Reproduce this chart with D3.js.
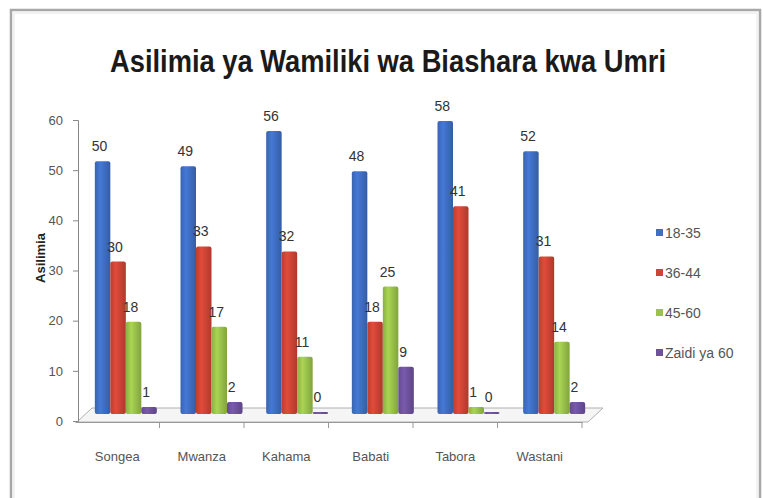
<!DOCTYPE html>
<html>
<head>
<meta charset="utf-8">
<script src="https://cdn.jsdelivr.net/npm/d3@7"></script>
<style>
  body { margin: 0; background: #fff; }
  svg { display: block; }
  text { font-family: "Liberation Sans Narrow", "Liberation Sans", "DejaVu Sans Condensed", sans-serif; }
</style>
</head>
<body>
<div id="chart"></div>
<script>
var categories = ["Songea", "Mwanza", "Kahama", "Babati", "Tabora", "Wastani"];
var series = ["18-35", "36-44", "45-60", "Zaidi ya 60"];
var v18_35 = [50, 49, 56, 48, 58, 52];
var v36_44 = [30, 33, 32, 18, 41, 31];
var v45_60 = [18, 17, 11, 25, 1, 14];
var vZaidi60 = [1, 2, 0, 9, 0, 2];
var yTicks = [0, 10, 20, 30, 40, 50, 60];
var colors = ["#3f6fc4", "#cf4535", "#9bc34b", "#6f529e"];
var values = [v18_35, v36_44, v45_60, vZaidi60];

var svg = d3.select("#chart").append("svg")
    .attr("width", 763).attr("height", 498);

// fremu
svg.append("rect").attr("x", 11).attr("y", 10).attr("width", 749).attr("height", 500)
    .attr("fill", "#fff").attr("stroke", "#a8a8a8").attr("stroke-width", 2.5);
svg.append("rect").attr("x", 14).attr("y", 13).attr("width", 743).attr("height", 500)
    .attr("fill", "none").attr("stroke", "#e6e6e6").attr("stroke-width", 1);

// kichwa
svg.append("text").attr("x", 388).attr("y", 72)
    .attr("text-anchor", "middle")
    .attr("font-size", 32).attr("font-weight", "bold").attr("fill", "#1a1a1a")
    .attr("textLength", 556).attr("lengthAdjust", "spacingAndGlyphs")
    .text("Asilimia ya Wamiliki wa Biashara kwa Umri");

// mizani
var yAxisScale = d3.scaleLinear().domain([0, 60]).range([421, 120]);
var yBar = d3.scaleLinear().domain([0, 60]).range([414, 113]);
var xBack = d3.scaleBand().domain(categories).range([83, 597]);
var xSub = d3.scaleBand().domain(series).range([0, 62]);
var xFront = d3.scaleBand().domain(categories).range([75, 582]);

// sakafu
var floor = svg.append("g").attr("fill", "none").attr("stroke", "#b0b0b0").attr("stroke-width", 1);
floor.append("path").attr("d", "M77,422 L588,422 L603,408 L92,408 Z").attr("fill", "#f5f5f5");

// mhimili wa y
var yAxis = d3.axisLeft(yAxisScale).tickValues(yTicks).tickSize(5).tickPadding(10);
var gy = svg.append("g").attr("transform", "translate(78,0)").call(yAxis);
gy.select(".domain").attr("stroke", "#888");
gy.selectAll(".tick line").attr("stroke", "#888");
gy.selectAll(".tick text").attr("font-size", 13).attr("fill", "#555")
    .attr("font-family", "\"Liberation Sans Narrow\", \"Liberation Sans\", sans-serif");

// mhimili wa x
var xAxis = d3.axisBottom(xFront).tickSize(0).tickPadding(30);
var gx = svg.append("g").attr("transform", "translate(0,422)").call(xAxis);
gx.select(".domain").attr("stroke", "#999");
gx.selectAll(".tick text").attr("font-size", 13).attr("fill", "#555")
    .attr("font-family", "\"Liberation Sans Narrow\", \"Liberation Sans\", sans-serif");
svg.append("g").selectAll("line")
    .data(categories.slice(1).concat(["end"]))
    .enter().append("line")
    .attr("x1", function (d, i) { return xFront.range()[0] + xFront.step() * (i + 1); })
    .attr("x2", function (d, i) { return xFront.range()[0] + xFront.step() * (i + 1); })
    .attr("y1", 422).attr("y2", 428)
    .attr("stroke", "#999");

// gradients kwa nguzo
var defs = svg.append("defs");
colors.forEach(function (c, i) {
    var g = defs.append("linearGradient").attr("id", "grad" + i)
        .attr("x1", "0%").attr("x2", "100%").attr("y1", "0%").attr("y2", "0%");
    g.append("stop").attr("offset", "0%").attr("stop-color", d3.color(c).darker(0.3));
    g.append("stop").attr("offset", "35%").attr("stop-color", d3.color(c).brighter(0.25));
    g.append("stop").attr("offset", "100%").attr("stop-color", d3.color(c).darker(0.5));
});

// nguzo
var bars = [];
categories.forEach(function (cat, ci) {
    series.forEach(function (s, si) {
        bars.push({ cat: cat, s: s, si: si, v: values[si][ci] });
    });
});
var groupOffset = (xBack.bandwidth() - 62) / 2;

svg.append("g").selectAll("rect")
    .data(bars)
    .enter().append("rect")
    .attr("x", function (d) { return xBack(d.cat) + groupOffset + xSub(d.s); })
    .attr("y", function (d) { return yBar(d.v) - 2; })
    .attr("width", xSub.bandwidth())
    .attr("height", function (d) { return yBar(0) - yBar(d.v) + 2; })
    .attr("rx", 2)
    .attr("fill", function (d) { return "url(#grad" + d.si + ")"; });

// lebo za thamani
svg.append("g").selectAll("text")
    .data(bars)
    .enter().append("text")
    .attr("x", function (d) { return xBack(d.cat) + groupOffset + xSub(d.s) + xSub.bandwidth() / 2 - 3; })
    .attr("y", function (d) { return yBar(d.v) - 12; })
    .attr("text-anchor", "middle")
    .attr("font-size", 14).attr("fill", "#333")
    .text(function (d) { return d.v; });

// lebo ya mhimili wa y
svg.append("text")
    .attr("transform", "translate(45,258) rotate(-90)")
    .attr("text-anchor", "middle")
    .attr("font-size", 13).attr("font-weight", "bold").attr("fill", "#222")
    .text("Asilimia");

// ufunguo
var legend = svg.append("g").attr("transform", "translate(656,0)");
var ly = d3.scalePoint().domain(series).range([233, 353]);
legend.selectAll("rect").data(series).enter().append("rect")
    .attr("x", 0).attr("y", function (d) { return ly(d) - 4; })
    .attr("width", 7).attr("height", 7)
    .attr("fill", function (d, i) { return colors[i]; });
legend.selectAll("text").data(series).enter().append("text")
    .attr("x", 9).attr("y", function (d) { return ly(d) + 5; })
    .attr("font-size", 14).attr("fill", "#555")
    .text(function (d) { return d; });
</script>
</body>
</html>
